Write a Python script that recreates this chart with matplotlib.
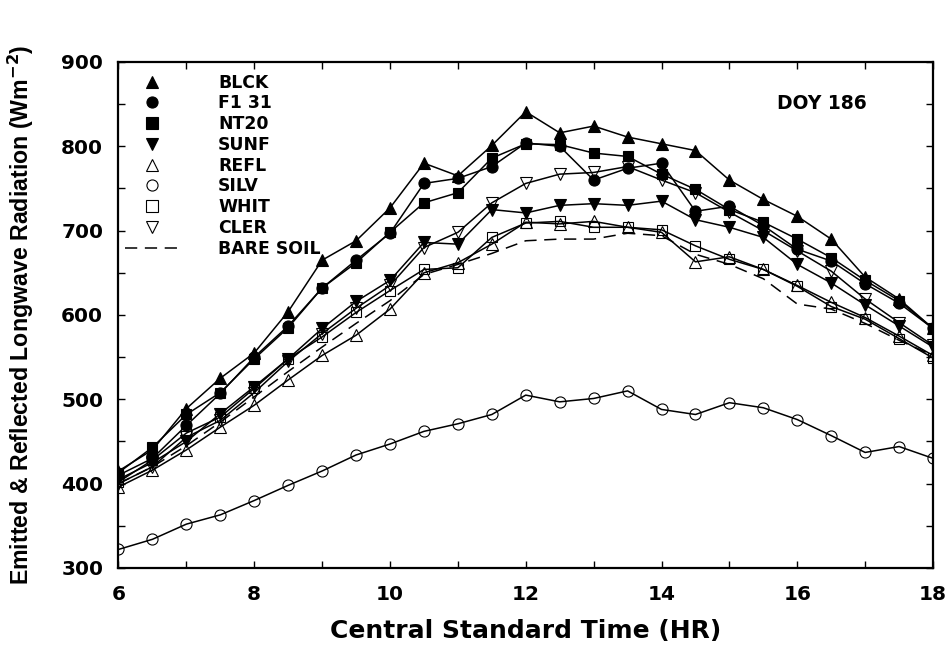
import matplotlib
matplotlib.use("Agg")
import matplotlib.pyplot as plt
from matplotlib.lines import Line2D
from matplotlib.ticker import MultipleLocator

# ── 데이터 (DOY 186) ─────────────────────────────────────────
hours = [6, 6.5, 7, 7.5, 8, 8.5, 9, 9.5, 10, 10.5, 11, 11.5, 12,
         12.5, 13, 13.5, 14, 14.5, 15, 15.5, 16, 16.5, 17, 17.5, 18]

blck = [415, 440, 489, 525, 555, 604, 665, 688, 727, 780, 765, 801, 841,
        816, 824, 811, 803, 795, 760, 737, 717, 690, 645, 619, 584]
f131 = [410, 430, 469, 507, 550, 587, 632, 665, 697, 756, 762, 776, 804,
        800, 760, 774, 780, 723, 729, 706, 678, 664, 637, 614, 584]
nt20 = [413, 443, 482, 508, 548, 585, 632, 662, 698, 733, 745, 786, 803,
        802, 792, 788, 767, 749, 725, 710, 690, 668, 641, 617, 584]
sunf = [405, 425, 450, 483, 515, 548, 584, 616, 641, 686, 684, 725, 721,
        730, 732, 730, 735, 713, 704, 692, 660, 638, 612, 587, 562]
refl = [396, 416, 440, 467, 493, 523, 552, 576, 607, 650, 662, 684, 710,
        708, 711, 704, 698, 663, 669, 654, 635, 615, 597, 575, 552]
silv = [322, 334, 352, 363, 380, 398, 415, 434, 447, 462, 471, 482, 505,
        497, 501, 510, 488, 482, 496, 490, 476, 457, 437, 444, 430]
whit = [402, 428, 460, 479, 513, 548, 574, 603, 629, 654, 656, 692, 709,
        711, 704, 704, 701, 682, 666, 654, 634, 610, 595, 572, 549]
cler = [400, 420, 455, 475, 508, 545, 578, 608, 635, 680, 698, 733, 756,
        767, 769, 776, 760, 745, 722, 700, 676, 652, 619, 591, 564]
bare_soil = [400, 420, 445, 473, 503, 533, 562, 590, 617, 648, 660, 673, 688,
             690, 690, 697, 694, 672, 660, 643, 613, 607, 590, 570, 552]

# (이름, 값, 마커, 채움 여부)
series = [
    ("BLCK", blck, "^", True),
    ("F131", f131, "o", True),
    ("NT20", nt20, "s", True),
    ("SUNF", sunf, "v", True),
    ("REFL", refl, "^", False),
    ("SILV", silv, "o", False),
    ("WHIT", whit, "s", False),
    ("CLER", cler, "v", False),
]
legend_labels = ["BLCK", "F1 31", "NT20", "SUNF", "REFL", "SILV", "WHIT", "CLER", "BARE SOIL"]

plt.rcParams["font.family"] = ["DejaVu Sans"]
plt.rcParams["font.weight"] = "bold"
plt.rcParams["mathtext.default"] = "bf"

fig = plt.figure(figsize=(9.51, 6.45), dpi=100)
ax = fig.add_axes([0.1246, 0.1194, 0.8565, 0.7845])

# ── 곡선 ──
ax.plot(hours, bare_soil, color="black", linewidth=1.1, dashes=(8, 5), zorder=2)
for name, vals, marker, filled in series:
    ax.plot(hours, vals, color="black", linewidth=1.1, marker=marker,
            markersize=8 if marker != "s" else 7.5,
            markerfacecolor="black" if filled else "none",
            markeredgecolor="black", markeredgewidth=0.8, zorder=3)

# ── 축 ──
ax.set_xlim(6, 18)
ax.set_ylim(300, 900)
ax.xaxis.set_major_locator(MultipleLocator(2))
ax.xaxis.set_minor_locator(MultipleLocator(1))
ax.yaxis.set_major_locator(MultipleLocator(100))
ax.yaxis.set_minor_locator(MultipleLocator(50))
ax.tick_params(which="both", direction="in", top=True, right=True, width=1.0, length=5)
ax.tick_params(which="major", labelsize=14.5)
ax.tick_params(axis="x", pad=12)
ax.tick_params(axis="y", pad=11)
for lbl in ax.get_xticklabels() + ax.get_yticklabels():
    lbl.set_fontweight("bold")
for sp in ax.spines.values():
    sp.set_linewidth(1.6)

ax.set_xlabel("Central Standard Time (HR)", fontsize=18, fontweight="bold", labelpad=11)
ax.set_ylabel("Emitted & Reflected Longwave Radiation (Wm$^{-2}$)",
              fontsize=16.7, fontweight="bold", labelpad=18,
              family=["Liberation Sans", "DejaVu Sans"])

ax.text(0.864, 0.917, "DOY 186", transform=ax.transAxes, fontsize=13.5,
        fontweight="bold", ha="center", va="center")

# ── 범례 ──
handles = []
for name, vals, marker, filled in series:
    handles.append(Line2D([], [], linestyle="none", marker=marker, markersize=8,
                          markerfacecolor="black" if filled else "none",
                          markeredgecolor="black", markeredgewidth=0.8))
handles.append(Line2D([], [], color="black", linewidth=1.1, dashes=(8, 5)))
leg = ax.legend(handles, legend_labels, loc="upper left", bbox_to_anchor=(0.008, 0.977),
                frameon=False, fontsize=12.4, handlelength=3.08, handletextpad=2.33,
                labelspacing=0.16, borderpad=0, borderaxespad=0)
for t in leg.get_texts():
    t.set_fontweight("bold")

plt.savefig("out.png", dpi=100)
plt.close()
